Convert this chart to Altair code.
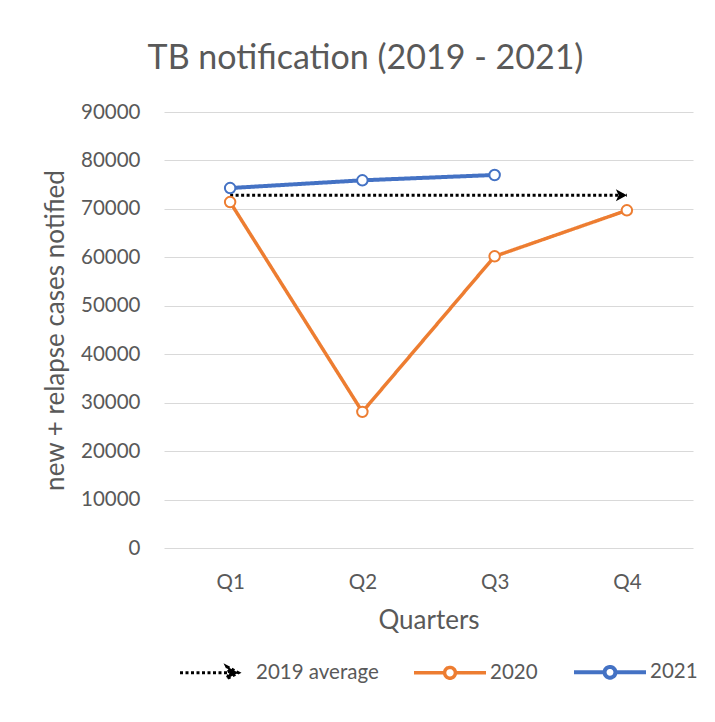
import altair as alt
import pandas as pd

quarters = ["Q1", "Q2", "Q3", "Q4"]
cases_2020 = [71400, 28100, 60200, 69700]
cases_2021 = [74300, 75900, 77000]
avg_2019 = 72800
series_names = ["2019 average", "2020", "2021"]
series_colors = ["#000000", "#ED7D31", "#4472C4"]
y_ticks = list(range(0, 90001, 10000))

rows = []
for q in quarters:
    rows.append({"quarter": q, "series": "2019 average", "cases": avg_2019})
for q, v in zip(quarters, cases_2020):
    rows.append({"quarter": q, "series": "2020", "cases": v})
for q, v in zip(quarters, cases_2021):
    rows.append({"quarter": q, "series": "2021", "cases": v})
df = pd.DataFrame(rows)

FONT = "Lato"
TXT = "#595959"

x_enc = alt.X(
    "quarter:N", sort=quarters,
    scale=alt.Scale(type="point", padding=0.5),
    axis=alt.Axis(title="Quarters", labelAngle=0, ticks=False, tickSize=0, domain=False,
                  grid=False, labelPadding=24, titlePadding=15),
)
y_enc = alt.Y(
    "cases:Q",
    scale=alt.Scale(domain=[0, 90000], nice=False),
    axis=alt.Axis(values=y_ticks, format="d", title="new + relapse cases notified",
                  ticks=False, tickSize=0, domain=False, labelPadding=24, titlePadding=12,
                  gridColor="#d9d9d9", gridWidth=1),
)

stroke_scale = alt.Scale(domain=series_names, range=series_colors)
dash_scale = alt.Scale(domain=series_names, range=[[3, 2.5], [1, 0], [1, 0]])
width_scale = alt.Scale(domain=series_names, range=[3, 4, 4])

path_line_circle = ("M-1,0L-0.15,0M0.15,0L1,0M-0.15,0A0.15,0.15,0,1,1,0.15,0"
                    "A0.15,0.15,0,1,1,-0.15,0Z")
path_avg = "M-1,0L0.42,0M0.3,-0.17L0.62,0L0.3,0.17L0.38,0Z"
arrow_head = "M-2,-1.1L0,0L-2,1.1L-1.5,0Z"

legend = alt.Legend(
    orient="none", legendX=14, legendY=522, direction="horizontal", columns=3,
    title=None, labelFont=FONT, labelFontSize=20.5, labelColor=TXT,
    symbolSize=5184, symbolStrokeWidth=3, labelOffset=2, columnPadding=28,
)

base = alt.Chart(df)

legend_layer = base.transform_filter("datum.cases < 0").mark_point(
    filled=True, opacity=1
).encode(
    x=x_enc, y=y_enc,
    stroke=alt.Stroke("series:N", scale=stroke_scale, legend=legend),
    fill=alt.Fill("series:N", scale=alt.Scale(domain=series_names, range=["black", "white", "white"]), legend=legend),
    shape=alt.Shape("series:N", scale=alt.Scale(domain=series_names, range=[path_avg, path_line_circle, path_line_circle]), legend=legend),
    strokeDash=alt.StrokeDash("series:N", scale=dash_scale, legend=legend),
)

lines = base.mark_line().encode(
    x=x_enc, y=y_enc,
    stroke=alt.Stroke("series:N", scale=stroke_scale, legend=None),
    strokeDash=alt.StrokeDash("series:N", scale=dash_scale, legend=None),
    strokeWidth=alt.StrokeWidth("series:N", scale=width_scale, legend=None),
)

points = base.transform_filter("datum.series != '2019 average'").mark_point(
    filled=True, fill="white", size=110, strokeWidth=2, opacity=1
).encode(
    x=x_enc, y=y_enc,
    stroke=alt.Stroke("series:N", scale=stroke_scale, legend=None),
)

arrow = base.transform_filter(
    "datum.series == '2019 average' && datum.quarter == 'Q4'"
).mark_point(shape=arrow_head, filled=True, color="black", size=121, opacity=1, strokeWidth=0).encode(
    x=x_enc, y=y_enc,
)

chart = alt.layer(legend_layer, lines, points, arrow).properties(
    width=529, height=436,
    padding={"left": 156, "top": 104, "right": 14, "bottom": 166},
    autosize=alt.AutoSizeParams(type="none"),
    background="white",
    title=alt.Title(
        "TB notification (2019 - 2021)", anchor="middle", dx=-63, dy=33, offset=32,
        font=FONT, fontSize=34, fontWeight="normal", color=TXT, baseline="alphabetic",
    ),
).configure_view(stroke=None).configure_axis(
    labelFont=FONT, labelFontSize=20.5, labelColor=TXT,
    titleFont=FONT, titleFontSize=26, titleColor=TXT, titleFontWeight="normal",
)

chart.save("out.html", embed_options={"renderer": "svg", "actions": False})
